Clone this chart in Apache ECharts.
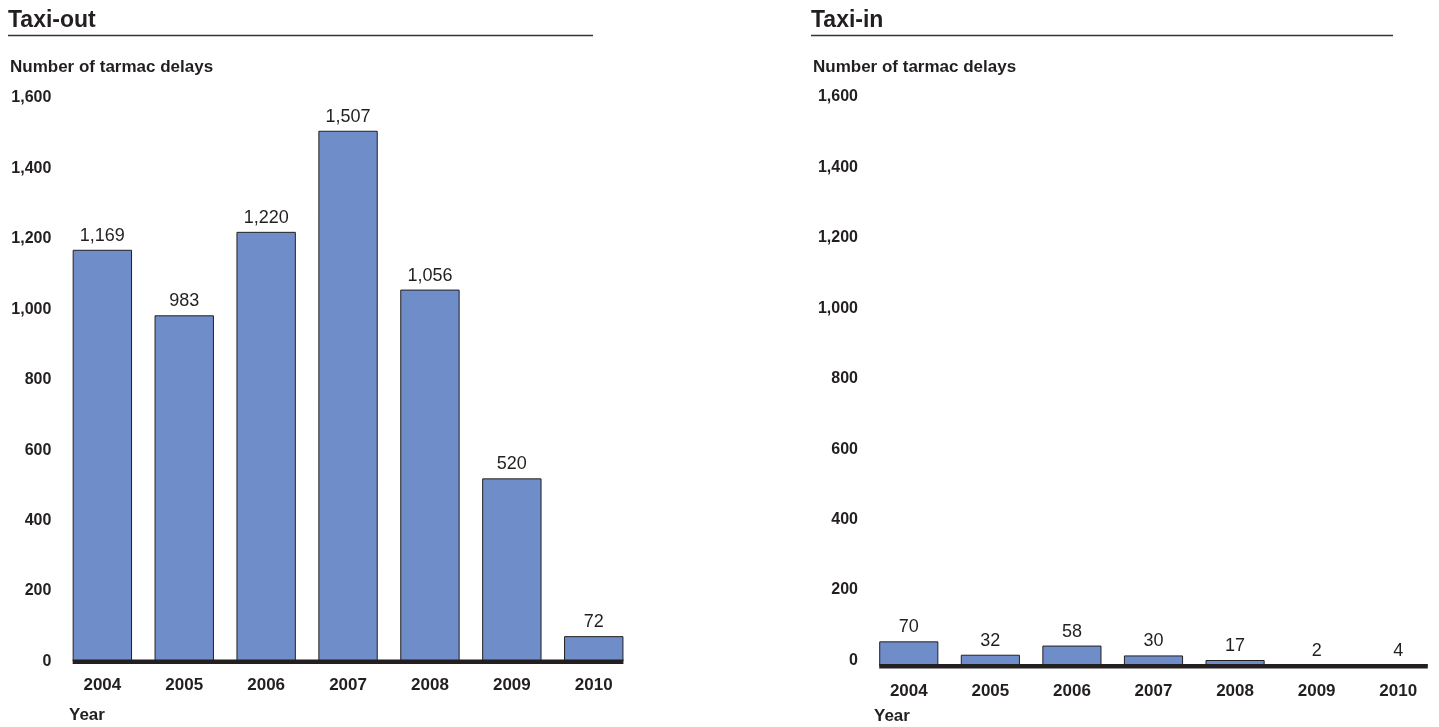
<!DOCTYPE html>
<html>
<head>
<meta charset="utf-8">
<title>Tarmac delays: taxi-out and taxi-in</title>
<script src="https://cdn.jsdelivr.net/npm/echarts@6/dist/echarts.min.js"></script>
<style>
  html, body { margin: 0; padding: 0; background: #ffffff; }
  #chart { width: 1439px; height: 727px; }
</style>
</head>
<body>
<div id="chart"></div>
<script>
// Years shown on both panels
const years = ['2004', '2005', '2006', '2007', '2008', '2009', '2010'];
// Number of tarmac delays per year
const taxiOut = [1169, 983, 1220, 1507, 1056, 520, 72];
const taxiIn = [70, 32, 58, 30, 17, 2, 4];
// Value axis ticks
const yTicks = [0, 200, 400, 600, 800, 1000, 1200, 1400, 1600];

const FONT = "'Liberation Sans', Arial, Helvetica, sans-serif";
const INK = '#231f20';
const BAR = '#6f8dc9';
const GAP = 0.275;

const fmt = v => Number(v).toLocaleString('en-US');

// Thick baseline spanning from the first bar's left edge to the last bar's right edge
function baseline(params, api) {
  const a = api.coord([0, 0]);
  const b = api.coord([years.length - 1, 0]);
  const half = api.size([1, 0])[0] * (1 - GAP) / 2;
  return {
    type: 'rect',
    shape: { x: a[0] - half, y: a[1] - 2, width: b[0] - a[0] + 2 * half, height: 4.5 },
    style: { fill: INK }
  };
}

function xAxisFor(gridIndex, margin) {
  return {
    type: 'category', gridIndex, data: years,
    axisLine: { show: false }, axisTick: { show: false },
    axisLabel: { color: INK, fontFamily: FONT, fontWeight: 'bold', fontSize: 17, margin }
  };
}
// lift: how far the tick labels sit above their ticks
function yAxisFor(gridIndex, lift) {
  const label = {
    color: INK, fontFamily: FONT, fontWeight: 'bold', fontSize: 16, margin: 10,
    formatter: fmt
  };
  if (lift > 0) {
    label.verticalAlign = 'bottom';
    label.lineHeight = lift * 2;
  }
  return {
    type: 'value', gridIndex,
    min: yTicks[0], max: yTicks[yTicks.length - 1], interval: yTicks[1] - yTicks[0],
    axisLine: { show: false }, axisTick: { show: false }, splitLine: { show: false },
    axisLabel: label
  };
}
function barsFor(idx, values) {
  return {
    type: 'bar', xAxisIndex: idx, yAxisIndex: idx, data: values,
    barCategoryGap: (GAP * 100) + '%',
    itemStyle: { color: BAR, borderColor: INK, borderWidth: 1 },
    label: {
      show: true, position: 'top', distance: 5,
      color: INK, fontFamily: FONT, fontSize: 18, formatter: p => fmt(p.value)
    },
    silent: true, animation: false, z: 2
  };
}
function baseFor(idx) {
  return {
    type: 'custom', xAxisIndex: idx, yAxisIndex: idx, data: [[0, 0]],
    renderItem: baseline, silent: true, animation: false, z: 5, clip: false
  };
}

function panelText(x, title, ruleEnd) {
  return [
    { type: 'text', left: x, top: 9, style: { text: title, font: 'bold 23px ' + FONT, fill: INK } },
    { type: 'line', shape: { x1: x, y1: 35.5, x2: ruleEnd, y2: 35.5 }, style: { stroke: '#333333', lineWidth: 1.5 } },
    { type: 'text', left: x + 2, top: 59, style: { text: 'Number of tarmac delays', font: 'bold 17px ' + FONT, fill: INK } }
  ];
}

const chart = echarts.init(document.getElementById('chart'), null, { renderer: 'canvas' });
chart.setOption({
  animation: false,
  backgroundColor: '#ffffff',
  grid: [
    { left: 61.4, width: 573.3, top: 98, height: 563.5 },
    { left: 868, width: 573.3, top: 102.5, height: 563.5 }
  ],
  xAxis: [xAxisFor(0, 15), xAxisFor(1, 17)],
  yAxis: [yAxisFor(0, 0), yAxisFor(1, 5.5)],
  series: [barsFor(0, taxiOut), baseFor(0), barsFor(1, taxiIn), baseFor(1)],
  graphic: [
    ...panelText(8, 'Taxi-out', 593),
    ...panelText(811, 'Taxi-in', 1393),
    { type: 'text', left: 69, top: 707, style: { text: 'Year', font: 'bold 17px ' + FONT, fill: INK } },
    { type: 'text', left: 874, top: 708, style: { text: 'Year', font: 'bold 17px ' + FONT, fill: INK } }
  ]
});
</script>
</body>
</html>
